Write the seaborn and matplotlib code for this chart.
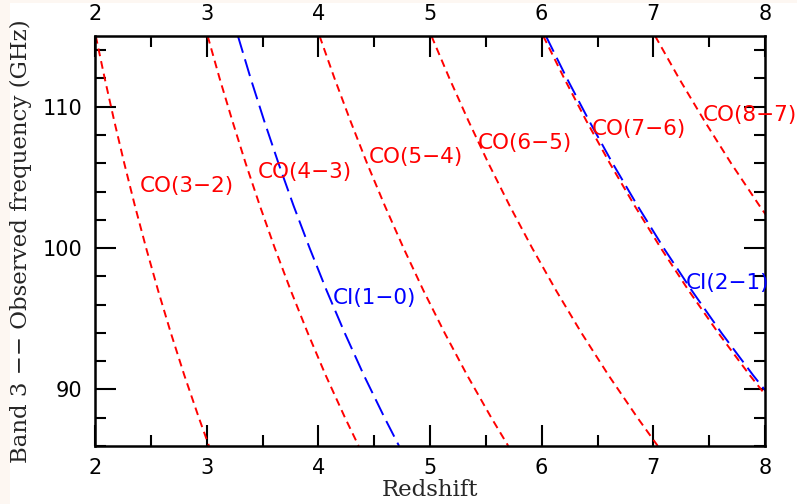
import numpy as np
import pandas as pd
import matplotlib
matplotlib.use("Agg")
import matplotlib.pyplot as plt
import seaborn as sns
from matplotlib.ticker import MultipleLocator
from matplotlib.patches import Rectangle

# Observed frequency grid (GHz) and redshift read for each line
freq = [115, 112, 109, 106, 103, 100, 97, 94, 91, 88, 86]
co32 = [2.007, 2.087, 2.172, 2.262, 2.357, 2.458, 2.565, 2.679, 2.800, 2.930, 3.021]
co43 = [3.009, 3.116, 3.230, 3.349, 3.476, 3.610, 3.753, 3.905, 4.066, 4.239, 4.361]
co54 = [4.011, 4.145, 4.287, 4.436, 4.595, 4.763, 4.941, 5.131, 5.333, 5.549, 5.701]
co65 = [5.013, 5.174, 5.344, 5.523, 5.713, 5.915, 6.129, 6.356, 6.599, 6.858, 7.040]
co76 = [6.014, 6.202, 6.400, 6.610, 6.832, 7.067, 7.316, 7.581, 7.864, 8.167]
co87 = [7.016, 7.230, 7.457, 7.696, 7.950, 8.218]
ci10 = [3.280, 3.394, 3.515, 3.643, 3.778, 3.922, 4.074, 4.236, 4.408, 4.593, 4.723]
ci21 = [6.038, 6.226, 6.425, 6.635, 6.858, 7.093, 7.344, 7.610, 7.894, 8.197]

labels = ["CO(3−2)", "CO(4−3)", "CO(5−4)", "CO(6−5)", "CO(7−6)", "CO(8−7)", "CI(1−0)", "CI(2−1)"]
label_z = [2.40, 3.46, 4.45, 5.43, 6.45, 7.44, 4.13, 7.29]
label_f = [104.4, 105.4, 106.45, 107.4, 108.4, 109.4, 96.5, 97.5]

sns.set_theme(style="white")
plt.rcParams['font.family'] = ['DejaVu Sans']

fig = plt.figure(figsize=(7.97, 5.04), dpi=100, facecolor="#fdf7f2")
bg = Rectangle((10/797, 0), 1, 1 - 3/504, transform=fig.transFigure,
               facecolor="white", edgecolor="none", zorder=-5)
fig.add_artist(bg)
ax = fig.add_axes([95/797, 1-446/504, 670/797, 410/504])
ax.set_zorder(1)

red_series = [co32, co43, co54, co65, co76, co87]
blue_series = [ci10, ci21]

for z in blue_series:
    df = pd.DataFrame({"z": z, "f": freq[:len(z)]})
    sns.lineplot(data=df, x="z", y="f", sort=False, ax=ax, color="#0000ff",
                 lw=1.4, estimator=None)
    ax.lines[-1].set_dashes([9, 3.5])
for z in red_series:
    df = pd.DataFrame({"z": z, "f": freq[:len(z)]})
    sns.lineplot(data=df, x="z", y="f", sort=False, ax=ax, color="#ff0000",
                 lw=1.4, estimator=None)
    ax.lines[-1].set_dashes([4, 2.6])

for t, zx, fy in zip(labels, label_z, label_f):
    col = "#0000ff" if t.startswith("CI") else "#ff0000"
    ax.text(zx, fy, t, color=col, fontsize=15.5, ha="left", va="center")

ax.set_xlim(2, 8)
ax.set_ylim(86, 115)
ax.xaxis.set_major_locator(MultipleLocator(1))
ax.xaxis.set_minor_locator(MultipleLocator(0.5))
ax.yaxis.set_major_locator(MultipleLocator(10))
ax.yaxis.set_minor_locator(MultipleLocator(2))
ax.tick_params(which="both", direction="in", top=True, right=True, bottom=True, left=True,
               labeltop=True, labelbottom=True, labelleft=True, colors="black",
               labelsize=15, pad=9)
ax.tick_params(which="major", length=15, width=1.5)
ax.tick_params(which="minor", length=8, width=1.5)
for s in ax.spines.values():
    s.set_color("black")
    s.set_linewidth(1.8)
ax.set_xlabel("Redshift", fontsize=16.5, family="DejaVu Serif", labelpad=0)
ax.set_ylabel("Band 3 −− Observed frequency (GHz)", fontsize=16.5,
              family="DejaVu Serif", labelpad=8)
ax.grid(False)
ax.set_facecolor("white")

fig.savefig("out.png", dpi=100, facecolor=fig.get_facecolor())
